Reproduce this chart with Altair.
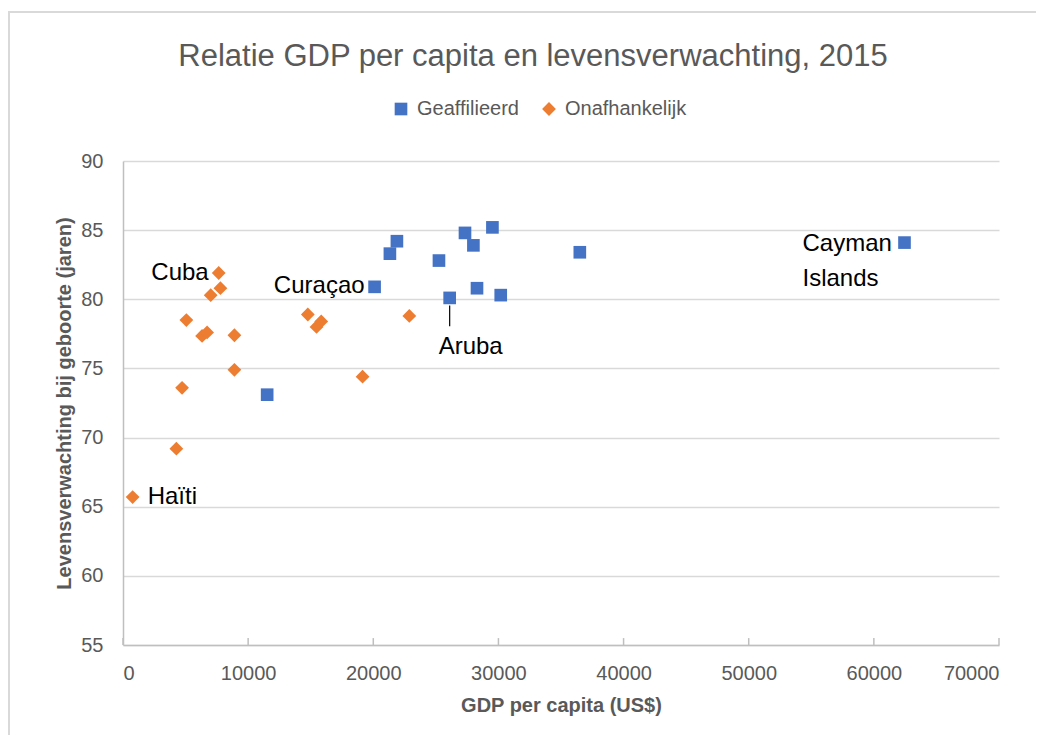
import altair as alt
import pandas as pd

# ---- data ----
geaff_x = [11520, 20104, 21328, 21888, 25248, 26104, 27328, 28000, 28288, 29520, 30184, 36504, 62448]
geaff_y = [73.1, 80.9, 83.3, 84.2, 82.8, 80.1, 84.8, 83.9, 80.8, 85.2, 80.3, 83.4, 84.1]
geaff_name = ["", "Curaçao", "", "", "", "Aruba", "", "", "", "", "", "", "Cayman Islands"]

onaf_x = [770, 4264, 4720, 5064, 6320, 6720, 7008, 7648, 7784, 8904, 8904, 14768, 15464, 15840, 19144, 22880]
onaf_y = [65.7, 69.2, 73.6, 78.5, 77.35, 77.6, 80.3, 81.9, 80.8, 77.4, 74.9, 78.9, 78.0, 78.4, 74.4, 78.8]
onaf_name = ["Haïti", "", "", "", "", "", "", "Cuba", "", "", "", "", "", "", "", ""]

series = ["Geaffilieerd", "Onafhankelijk"]
colors = ["#4472C4", "#ED7D31"]
shapes = ["square", "diamond"]

x_ticks = [0, 10000, 20000, 30000, 40000, 50000, 60000, 70000]
y_ticks = [55, 60, 65, 70, 75, 80, 85, 90]
aruba_leader = [79.55, 78.05]

FONT = "Liberation Sans"
GRAY = "#595959"

df = pd.DataFrame({
    "gdp": geaff_x + onaf_x,
    "life": geaff_y + onaf_y,
    "name": geaff_name + onaf_name,
    "groep": [series[0]] * len(geaff_x) + [series[1]] * len(onaf_x),
})

xs = alt.Scale(domain=[0, 70000], nice=False, zero=True)
ys = alt.Scale(domain=[55, 90], nice=False, zero=False)

X = alt.X("gdp:Q", scale=xs, axis=alt.Axis(
    values=x_ticks, title="GDP per capita (US$)", grid=False, ticks=False,
    labelPadding=18, titlePadding=12, format="d"))
Y = alt.Y("life:Q", scale=ys, axis=alt.Axis(
    values=y_ticks, title="Levensverwachting bij geboorte (jaren)", grid=True,
    ticks=False, labelPadding=20, titlePadding=6))

base = alt.Chart(df)

points = base.mark_point(filled=True, opacity=1).encode(
    x=X, y=Y,
    color=alt.Color("groep:N", scale=alt.Scale(domain=series, range=colors),
                    legend=alt.Legend(title=None, orient="none", direction="horizontal",
                                      legendX=268, legendY=-62, labelFontSize=20,
                                      labelColor=GRAY, labelFont=FONT, symbolSize=190,
                                      columnPadding=20, labelOffset=6, symbolStrokeWidth=0)),
    shape=alt.Shape("groep:N", scale=alt.Scale(domain=series, range=shapes)),
    size=alt.Size("groep:N", scale=alt.Scale(domain=series, range=[160, 190]), legend=None),
)

def label(name, align, dx, dy):
    return base.transform_filter(alt.datum.name == name).mark_text(
        align=align, baseline="middle", dx=dx, dy=dy, fontSize=24, font=FONT,
        color="#000000", lineHeight=35,
    ).encode(x="gdp:Q", y="life:Q", text="name:N")

cuba = label("Cuba", "right", -10, 0)
curacao = label("Curaçao", "right", -10, -1)
haiti = label("Haïti", "left", 15, 0)
aruba = label("Aruba", "center", 21, 49)
cayman = base.transform_filter(alt.datum.name == "Cayman Islands").transform_calculate(
    lines="['Cayman', 'Islands']").mark_text(
    align="left", baseline="middle", dx=-102, dy=1, fontSize=24, font=FONT,
    color="#000000", lineHeight=35,
).encode(x="gdp:Q", y="life:Q", text="lines:N")

leader_df = pd.DataFrame({"gdp": [geaff_x[5]], "y1": [aruba_leader[0]], "y2": [aruba_leader[1]]})
leader = alt.Chart(leader_df).mark_rule(color="#000000", strokeWidth=1.2).encode(
    x="gdp:Q", y="y1:Q", y2="y2:Q")

tick_df = pd.DataFrame({"t": x_ticks, "a": [55] * len(x_ticks), "b": [55.5] * len(x_ticks)})
tick_rules = alt.Chart(tick_df).mark_rule(color="#BFBFBF", strokeWidth=1.5).encode(
    x="t:Q", y="a:Q", y2="b:Q")

border = alt.Chart(pd.DataFrame({"k": [1]})).mark_rect(
    filled=False, stroke="#D9D9D9", strokeWidth=2).encode(
    x=alt.value(-114), x2=alt.value(1000), y=alt.value(-149), y2=alt.value(900))

chart = alt.layer(border, tick_rules, points, leader, cuba, curacao, haiti, aruba, cayman).properties(
    width=876, height=484,
    autosize=alt.AutoSizeParams(type="none"),
    padding={"left": 115, "top": 153, "right": 37, "bottom": 90},
    title=alt.TitleParams(
        "Relatie GDP per capita en levensverwachting, 2015",
        fontSize=31, font=FONT, fontWeight="normal", color=GRAY,
        anchor="middle", frame="group", dx=-28, offset=-62,
    ),
).configure_view(stroke=None).configure_axis(
    labelFont=FONT, labelFontSize=20, labelColor=GRAY,
    titleFont=FONT, titleFontSize=20, titleColor=GRAY, titleFontWeight="bold",
    domainColor="#BFBFBF", domainWidth=1.5, gridColor="#D9D9D9", gridWidth=1.5,
)

chart.save("out.html", embed_options={"renderer": "svg", "actions": False})
